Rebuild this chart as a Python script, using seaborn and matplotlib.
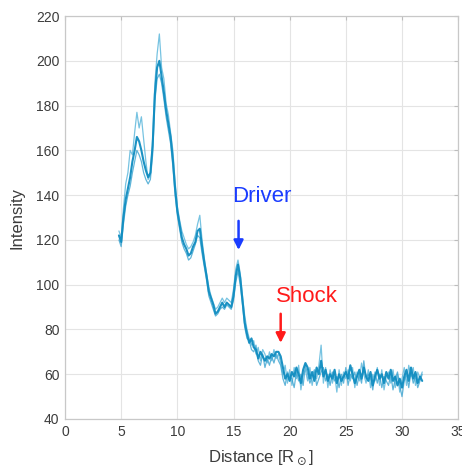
import numpy as np
import pandas as pd
import matplotlib
matplotlib.use("Agg")
import matplotlib.pyplot as plt
import seaborn as sns

# sampling grid of distance (R_sun)
x_start, x_step, n_pts = 4.8, 0.2, 136
distance = np.round(x_start + x_step * np.arange(n_pts), 1)

profile_a = [
    122, 119, 130, 138, 143,
    148, 155, 160, 166, 164,
    160, 155, 151, 148, 150,
    162, 185, 197, 200, 193,
    186, 178, 172, 166, 156,
    143, 133, 127, 121, 118,
    116, 113, 114, 117, 119,
    124, 125, 117, 110, 104,
    97, 94, 91, 87, 88,
    90, 92, 90, 92, 91,
    90, 95, 104, 109, 103,
    93, 83, 78, 74, 76,
    72, 71, 67, 70, 68,
    66, 68, 67, 69, 68,
    70, 70, 68, 63, 58,
    60, 57, 61, 59, 63,
    60, 56, 62, 65, 63,
    58, 61, 57, 63, 60,
    66, 59, 62, 57, 60,
    58, 62, 56, 60, 57,
    59, 61, 58, 64, 60,
    56, 59, 62, 58, 63,
    59, 57, 61, 55, 59,
    62, 58, 60, 56, 61,
    58, 62, 57, 59, 55,
    58, 54, 59, 62, 57,
    63, 58, 61, 56, 59,
    57,
]

profile_b = [
    124, 121, 134, 145, 150,
    160, 158, 168, 177, 170,
    175, 165, 155, 147, 149,
    165, 190, 203, 212, 197,
    192, 181, 176, 168, 160,
    146, 135, 129, 124, 121,
    118, 116, 117, 119, 122,
    127, 131, 120, 112, 105,
    99, 95, 92, 89, 90,
    92, 94, 92, 94, 93,
    92, 98, 107, 111, 105,
    95, 86, 80, 76, 73,
    75, 69, 72, 66, 71,
    69, 65, 70, 66, 71,
    67, 69, 65, 60, 64,
    56, 62, 55, 63, 58,
    64, 53, 60, 62, 57,
    63, 55, 61, 58, 64,
    73, 56, 63, 54, 62,
    56, 60, 52, 62, 55,
    61, 58, 62, 57, 63,
    54, 61, 57, 65, 60,
    56, 62, 54, 60, 57,
    63, 55, 62, 53, 59,
    61, 56, 62, 54, 60,
    52, 58, 63, 55, 64,
    59, 63, 55, 61, 58,
    61,
]

profile_c = [
    120, 117, 127, 135, 140,
    144, 150, 155, 160, 158,
    155, 150, 147, 145, 147,
    158, 182, 192, 194, 190,
    183, 175, 169, 163, 153,
    140, 131, 125, 119, 116,
    114, 111, 112, 115, 118,
    122, 121, 114, 108, 102,
    95, 92, 89, 86, 87,
    89, 90, 89, 91, 90,
    89, 93, 101, 106, 100,
    91, 81, 76, 75, 71,
    70, 73, 66, 64, 69,
    63, 67, 64, 68, 65,
    69, 66, 64, 58, 55,
    61, 59, 58, 54, 61,
    57, 60, 55, 64, 60,
    56, 59, 62, 55, 58,
    61, 63, 57, 60, 55,
    61, 57, 59, 54, 60,
    56, 63, 55, 60, 58,
    61, 55, 60, 56, 66,
    58, 60, 58, 53, 61,
    56, 60, 54, 59, 57,
    55, 60, 53, 58, 61,
    55, 50, 57, 60, 54,
    61, 56, 59, 54, 57,
    60,
]

series_names = ["b", "c", "a"]
series_colors = {"a": "#0f8cc0", "b": "#55b4da", "c": "#3aa3d0"}
series_widths = {"a": 1.5, "b": 0.9, "c": 0.9}

df = pd.concat([
    pd.DataFrame({"Distance": distance, "Intensity": profile_b, "series": "b"}),
    pd.DataFrame({"Distance": distance, "Intensity": profile_c, "series": "c"}),
    pd.DataFrame({"Distance": distance, "Intensity": profile_a, "series": "a"}),
])

sns.set_style("white")
plt.rcParams["font.family"] = ["Liberation Sans", "DejaVu Sans"]
plt.rcParams["mathtext.fontset"] = "dejavusans"

fig = plt.figure(figsize=(4.62, 4.72), dpi=100)
ax = fig.add_axes([0.1407, 0.1123, 0.851, 0.8537])

for name in series_names:
    sns.lineplot(data=df[df["series"] == name], x="Distance", y="Intensity",
                 color=series_colors[name], linewidth=series_widths[name],
                 alpha=0.95 if name == "a" else 0.8, ax=ax, legend=False,
                 estimator=None)

ax.set_xlim(0, 35)
ax.set_ylim(40, 220)
ax.set_xticks(np.arange(0, 36, 5))
ax.set_yticks(np.arange(40, 221, 20))
ax.grid(True, color="#e4e4e4", linewidth=0.8)
ax.set_axisbelow(True)
for sp in ax.spines.values():
    sp.set_color("#c8c8c8")
    sp.set_linewidth(0.9)
ax.tick_params(direction="in", length=3, color="#bdbdbd", labelsize=10,
               labelcolor="#3c3c3c", top=True, right=True, pad=4)
ax.set_xlabel("Distance [R$_\\odot$]", fontsize=12, color="#3c3c3c", labelpad=7)
ax.set_ylabel("Intensity", fontsize=12, color="#3c3c3c", labelpad=8)

ax.text(14.9, 139.5, "Driver", color="#1a3cff", fontsize=16, va="center", ha="left")
ax.annotate("", xy=(15.45, 115.5), xytext=(15.45, 128.5),
            arrowprops=dict(arrowstyle="-|>", color="#1a3cff", lw=1.8,
                            mutation_scale=14, shrinkA=0, shrinkB=0))
ax.text(18.75, 94.5, "Shock", color="#ff1a1a", fontsize=16, va="center", ha="left")
ax.annotate("", xy=(19.2, 74), xytext=(19.2, 87),
            arrowprops=dict(arrowstyle="-|>", color="#ff1a1a", lw=1.8,
                            mutation_scale=14, shrinkA=0, shrinkB=0))

fig.savefig("out.png", dpi=100)
